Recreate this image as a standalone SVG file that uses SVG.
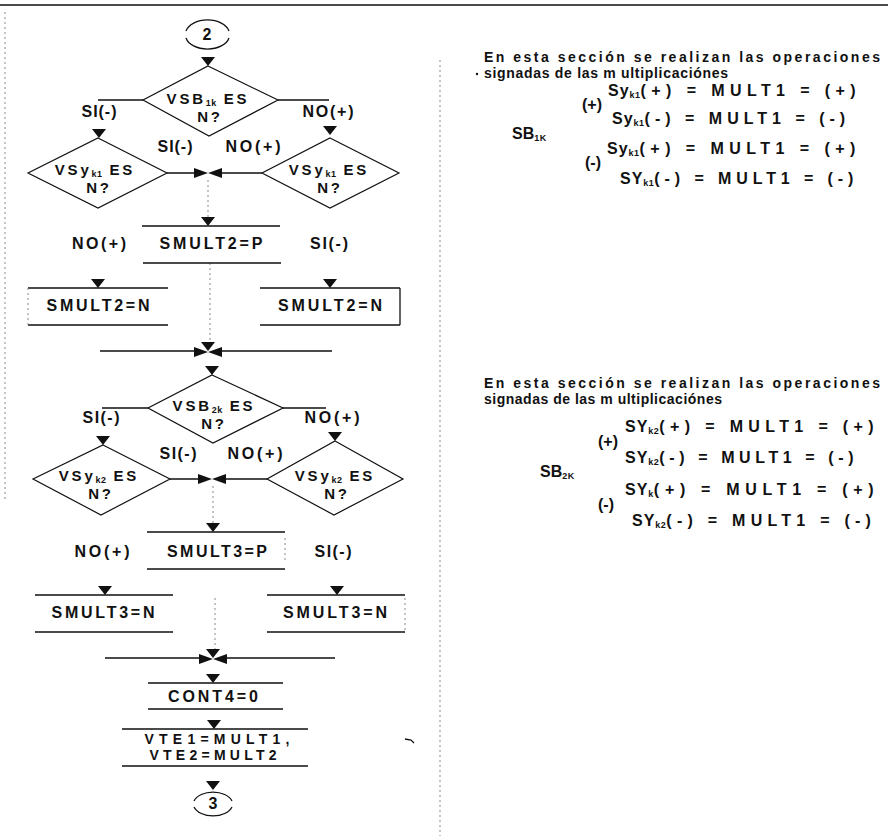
<svg xmlns="http://www.w3.org/2000/svg" xmlns:xlink="http://www.w3.org/1999/xlink" width="888" height="836" viewBox="0 0 888 836">
<style>
text{font-family:"Liberation Sans",Arial,sans-serif;font-weight:bold;font-size:16px;fill:#111}
.d{font-size:15px;letter-spacing:2.8px}
.p{font-size:14px}
.c{text-anchor:middle}
.s{font-size:9px;letter-spacing:0.5px}
.h{letter-spacing:1px}
.ln{stroke:#111;stroke-width:1.3;fill:none}
.shape{stroke:#111;stroke-width:1.2;fill:#fff}
.dt{stroke:#888;stroke-width:1;stroke-dasharray:2 3;fill:none}
.tip{fill:#111}
</style>
<defs>
<!-- arrowheads: apex at the origin -->
<path id="ad" d="M-7,-9 L7,-9 L0,0 Z"/>
<path id="ar" d="M-14,-5 L0,0 L-14,5 Z"/>
<path id="al" d="M14,-5 L0,0 L14,5 Z"/>
</defs>

<!-- page frame -->
<g id="page">
<path class="ln" d="M0,5 H888" stroke-width="2"/>
<path class="dt" d="M5,12 V500" stroke="#bbb" stroke-dasharray="2 6"/>
<path class="dt" d="M440,60 V836" stroke="#aaa"/>
<path class="ln" d="M405,739 L411,740 L414,743" stroke-width="1"/>
</g>

<!-- connectors -->
<g id="connectors">
<path class="ln" d="M143,100 H98 M278,100 H329"/>
<path class="ln" d="M167,173 H194 M222,173 H262"/>
<path class="dt" d="M208,180 V218"/>
<path class="dt" d="M210,263 V343"/>
<path class="ln" d="M100,351 H194 M222,351 H332"/>
<path class="ln" d="M148,408 H102 M283,408 H326"/>
<path class="ln" d="M170,479 H198 M226,479 H267"/>
<path class="dt" d="M213,486 V524"/>
<path class="dt" d="M215,598 V650"/>
<path class="ln" d="M105,658 H199 M227,658 H335"/>
<g class="tip">
<use xlink:href="#ad" x="208" y="66"/>
<use xlink:href="#ad" x="99" y="138"/>
<use xlink:href="#ad" x="330" y="135"/>
<use xlink:href="#ar" x="208" y="173"/>
<use xlink:href="#al" x="208" y="173"/>
<use xlink:href="#ad" x="208" y="226"/>
<use xlink:href="#ad" x="98" y="288"/>
<use xlink:href="#ad" x="330" y="288"/>
<use xlink:href="#ar" x="208" y="352"/>
<use xlink:href="#al" x="208" y="352"/>
<use xlink:href="#ad" x="208" y="351"/>
<use xlink:href="#ad" x="212" y="375"/>
<use xlink:href="#ad" x="103" y="445"/>
<use xlink:href="#ad" x="335" y="441"/>
<use xlink:href="#ar" x="212" y="479"/>
<use xlink:href="#al" x="212" y="479"/>
<use xlink:href="#ad" x="213" y="532"/>
<use xlink:href="#ad" x="105" y="595"/>
<use xlink:href="#ad" x="337" y="595"/>
<use xlink:href="#ar" x="213" y="659"/>
<use xlink:href="#al" x="213" y="659"/>
<use xlink:href="#ad" x="213" y="658"/>
<use xlink:href="#ad" x="213" y="683"/>
<use xlink:href="#ad" x="214" y="729"/>
<use xlink:href="#ad" x="213" y="790"/>
</g>
</g>

<!-- connector 2 -->
<g id="start2">
<path class="ln" d="M186,31 A22,14 0 0 1 229,31 M186,38 A22,14 0 0 0 229,38" stroke-width="1"/>
<text class="c" x="207" y="40" font-size="15">2</text>
</g>

<g id="vsb1k">
<path class="shape" d="M208,66 L278,100 L209,136 L143,100 Z"/>
<text class="c d" x="208" y="104">VSB<tspan class="s" dy="2">1k</tspan><tspan dy="-2"> ES</tspan></text>
<text class="c d" x="210" y="122">N?</text>
</g>
<g id="lbl1">
<text class="c" x="99" y="117" textLength="35" lengthAdjust="spacing">SI(-)</text>
<text class="c" x="328" y="117" textLength="51" lengthAdjust="spacing">NO(+)</text>
<text class="c" x="175" y="152" textLength="35" lengthAdjust="spacing">SI(-)</text>
<text class="c" x="253" y="152" textLength="55" lengthAdjust="spacing">NO(+)</text>
</g>

<g id="vsyk1-left">
<path class="shape" d="M98,138 L167,173 L98,208 L28,173 Z"/>
<text class="c d" x="95" y="175">VSy<tspan class="s" dy="2">k1</tspan><tspan dy="-2"> ES</tspan></text>
<text class="c d" x="99" y="193">N?</text>
</g>
<g id="vsyk1-right">
<path class="shape" d="M330,138 L399,173 L330,208 L262,173 Z"/>
<text class="c d" x="329" y="175">VSy<tspan class="s" dy="2">k1</tspan><tspan dy="-2"> ES</tspan></text>
<text class="c d" x="330" y="193">N?</text>
</g>

<g id="smult2p">
<path class="ln" d="M142,226 H280 M143,263 H281"/>
<text class="c" x="211" y="249" textLength="103" lengthAdjust="spacing">SMULT2=P</text>
<text class="c" x="99" y="249" textLength="54" lengthAdjust="spacing">NO(+)</text>
<text class="c" x="329" y="249" textLength="38" lengthAdjust="spacing">SI(-)</text>
</g>
<g id="smult2n-left">
<path class="ln" d="M28,288 H168 M28,325 H168"/>
<path class="dt" d="M28,288 V325"/>
<text class="c" x="98" y="311" textLength="103" lengthAdjust="spacing">SMULT2=N</text>
</g>
<g id="smult2n-right">
<path class="ln" d="M260,288 H400 M260,325 H400"/>
<path class="ln" d="M400,288 V325" stroke="#666" stroke-width="1"/>
<text class="c" x="330" y="311" textLength="104" lengthAdjust="spacing">SMULT2=N</text>
</g>

<g id="vsb2k">
<path class="shape" d="M212,375 L283,408 L213,443 L148,408 Z"/>
<text class="c d" x="214" y="411">VSB<tspan class="s" dy="2">2k</tspan><tspan dy="-2"> ES</tspan></text>
<text class="c d" x="214" y="429">N?</text>
</g>
<g id="lbl2">
<text class="c" x="101" y="423" textLength="37" lengthAdjust="spacing">SI(-)</text>
<text class="c" x="332" y="423" textLength="55" lengthAdjust="spacing">NO(+)</text>
<text class="c" x="178" y="459" textLength="37" lengthAdjust="spacing">SI(-)</text>
<text class="c" x="255" y="459" textLength="55" lengthAdjust="spacing">NO(+)</text>
</g>

<g id="vsyk2-left">
<path class="shape" d="M103,445 L170,479 L101,515 L33,479 Z"/>
<text class="c d" x="99" y="481">VSy<tspan class="s" dy="2">k2</tspan><tspan dy="-2"> ES</tspan></text>
<text class="c d" x="101" y="499">N?</text>
</g>
<g id="vsyk2-right">
<path class="shape" d="M335,441 L403,479 L334,515 L267,479 Z"/>
<text class="c d" x="335" y="481">VSy<tspan class="s" dy="2">k2</tspan><tspan dy="-2"> ES</tspan></text>
<text class="c d" x="337" y="499">N?</text>
</g>

<g id="smult3p">
<path class="ln" d="M147,532 H285 M147,569 H285"/>
<path class="dt" d="M285,538 V562"/>
<text class="c" x="217" y="557" textLength="100" lengthAdjust="spacing">SMULT3=P</text>
<text class="c" x="102" y="557" textLength="55" lengthAdjust="spacing">NO(+)</text>
<text class="c" x="333" y="557" textLength="37" lengthAdjust="spacing">SI(-)</text>
</g>
<g id="smult3n-left">
<path class="ln" d="M35,595 H173 M35,632 H173"/>
<text class="c" x="103" y="618" textLength="103" lengthAdjust="spacing">SMULT3=N</text>
</g>
<g id="smult3n-right">
<path class="ln" d="M267,595 H405 M267,632 H405"/>
<path class="dt" d="M405,598 V630"/>
<text class="c" x="335" y="618" textLength="104" lengthAdjust="spacing">SMULT3=N</text>
</g>

<g id="cont4">
<path class="ln" d="M148,683 H283 M148,709 H283"/>
<text class="c" x="213" y="702" textLength="90" lengthAdjust="spacing">CONT4=0</text>
</g>
<g id="vte">
<path class="ln" d="M122,729 H308 M122,766 H308"/>
<text class="c p" x="217" y="744" textLength="145" lengthAdjust="spacing">VTE1=MULT1,</text>
<text class="c p" x="213" y="760" textLength="127" lengthAdjust="spacing">VTE2=MULT2</text>
</g>
<g id="end3">
<path class="ln" d="M194,801 A20,13 0 0 1 232,801 M194,807 A20,13 0 0 0 232,807" stroke-width="1"/>
<text class="c" x="213" y="809" font-size="15">3</text>
</g>

<!-- notes, section 1 -->
<g id="note1">
<text class="p" x="484" y="62" textLength="396" lengthAdjust="spacing">En esta sección se realizan las operaciones</text>
<circle cx="477" cy="74" r="1.2" fill="#111"/>
<text class="p" x="484" y="78" textLength="244" lengthAdjust="spacing">signadas de las m ultiplicaciónes</text>
<text x="608" y="96"><tspan class="h">Sy</tspan><tspan class="s" dy="2">k1</tspan><tspan dy="-2" letter-spacing="5.4">(+) = MULT1 = (+)</tspan></text>
<text x="582" y="110">(+)</text>
<text x="612" y="124"><tspan class="h">Sy</tspan><tspan class="s" dy="2">k1</tspan><tspan dy="-2" letter-spacing="5">(-) = MULT1 = (-)</tspan></text>
<text x="512" y="139">SB<tspan class="s" dy="2">1K</tspan></text>
<text x="607" y="154"><tspan class="h">Sy</tspan><tspan class="s" dy="2">k1</tspan><tspan dy="-2" letter-spacing="5.45">(+) = MULT1 = (+)</tspan></text>
<text x="585" y="168">(-)</text>
<text x="620" y="184"><tspan class="h">SY</tspan><tspan class="s" dy="2">k1</tspan><tspan dy="-2" letter-spacing="4.9">(-) = MULT1 = (-)</tspan></text>
</g>

<!-- notes, section 2 -->
<g id="note2">
<text class="p" x="484" y="388" textLength="396" lengthAdjust="spacing">En esta sección se realizan las operaciones</text>
<text class="p" x="484" y="404" textLength="238" lengthAdjust="spacing">signadas de las m ultiplicaciónes</text>
<text x="625" y="432"><tspan class="h">SY</tspan><tspan class="s" dy="2">k2</tspan><tspan dy="-2" letter-spacing="5.35">(+) = MULT1 = (+)</tspan></text>
<text x="598" y="447">(+)</text>
<text x="625" y="463"><tspan class="h">SY</tspan><tspan class="s" dy="2">k2</tspan><tspan dy="-2" letter-spacing="4.6">(-) = MULT1 = (-)</tspan></text>
<text x="540" y="477">SB<tspan class="s" dy="2">2K</tspan></text>
<text x="625" y="495"><tspan class="h">SY</tspan><tspan class="s" dy="2">k</tspan><tspan dy="-2" letter-spacing="5.7">(+) = MULT1 = (+)</tspan></text>
<text x="598" y="510">(-)</text>
<text x="632" y="526"><tspan class="h">SY</tspan><tspan class="s" dy="2">k2</tspan><tspan dy="-2" letter-spacing="5.25">(-) = MULT1 = (-)</tspan></text>
</g>
</svg>
